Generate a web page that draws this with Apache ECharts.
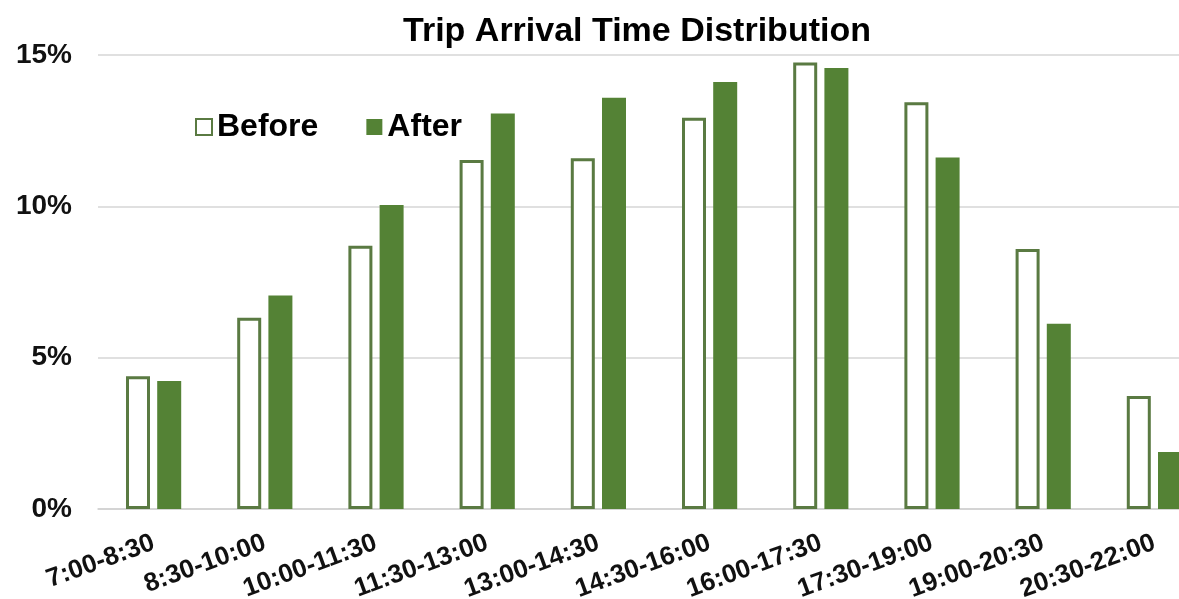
<!DOCTYPE html>
<html>
<head>
<meta charset="utf-8">
<script src="https://cdn.jsdelivr.net/npm/echarts@6/dist/echarts.min.js"></script>
<style>
  html, body { margin: 0; padding: 0; background: #ffffff; }
  #chart { width: 1179px; height: 599px; }
</style>
</head>
<body>
<div id="chart"></div>
<script>
// Arrival time windows
const categories = ['7:00-8:30', '8:30-10:00', '10:00-11:30', '11:30-13:00', '13:00-14:30',
  '14:30-16:00', '16:00-17:30', '17:30-19:00', '19:00-20:30', '20:30-22:00'];
// Share of trips (%) per window
const beforeValues = [4.39, 6.32, 8.70, 11.53, 11.59, 12.93, 14.75, 13.44, 8.59, 3.73];
const afterValues  = [4.23, 7.05, 10.04, 13.07, 13.59, 14.11, 14.57, 11.61, 6.12, 1.88];
// Y-axis ticks
const yTicks = [0, 5, 10, 15];

const green = '#548235';
const font = '"Liberation Sans", Arial, sans-serif';

const chart = echarts.init(document.getElementById('chart'), null, { renderer: 'canvas' });
chart.setOption({
  animation: false,
  backgroundColor: '#ffffff',
  title: {
    text: 'Trip Arrival Time Distribution',
    left: 632,
    textAlign: 'center',
    top: 10,
    textStyle: { fontFamily: font, fontWeight: 'bold', fontSize: 34, color: '#000000' }
  },
  legend: {
    left: 190,
    top: 106,
    icon: 'rect',
    itemWidth: 16,
    itemHeight: 16,
    itemGap: 48,
    textStyle: { fontFamily: font, fontWeight: 'bold', fontSize: 32, color: '#000000' },
    data: ['Before', 'After']
  },
  // plot band runs past the right edge of the canvas
  grid: { left: 98, right: -31, top: 55, bottom: 90, containLabel: false, outerBoundsMode: 'none' },
  xAxis: {
    type: 'category',
    data: categories,
    axisTick: { show: false },
    axisLine: { lineStyle: { color: '#d0d0d0', width: 1.5 } },
    axisLabel: {
      interval: 0,
      rotate: 20,
      margin: 33,
      fontFamily: font,
      fontWeight: 'bold',
      fontSize: 26,
      color: '#111111'
    }
  },
  yAxis: {
    type: 'value',
    min: yTicks[0],
    max: yTicks[yTicks.length - 1],
    interval: 5,
    axisLine: { show: false },
    axisTick: { show: false },
    splitLine: { lineStyle: { color: '#d6d6d6', width: 1.5 } },
    axisLabel: {
      formatter: '{value}%',
      margin: 26,
      fontFamily: font,
      fontWeight: 'bold',
      fontSize: 28,
      color: '#111111'
    }
  },
  series: [
    {
      name: 'Before',
      type: 'bar',
      data: beforeValues,
      barWidth: 24,
      barGap: '30%',
      itemStyle: { color: '#ffffff', borderColor: '#5a7a42', borderWidth: 3 }
    },
    {
      name: 'After',
      type: 'bar',
      data: afterValues,
      barWidth: 24,
      barGap: '30%',
      itemStyle: { color: green }
    }
  ]
});
</script>
</body>
</html>
